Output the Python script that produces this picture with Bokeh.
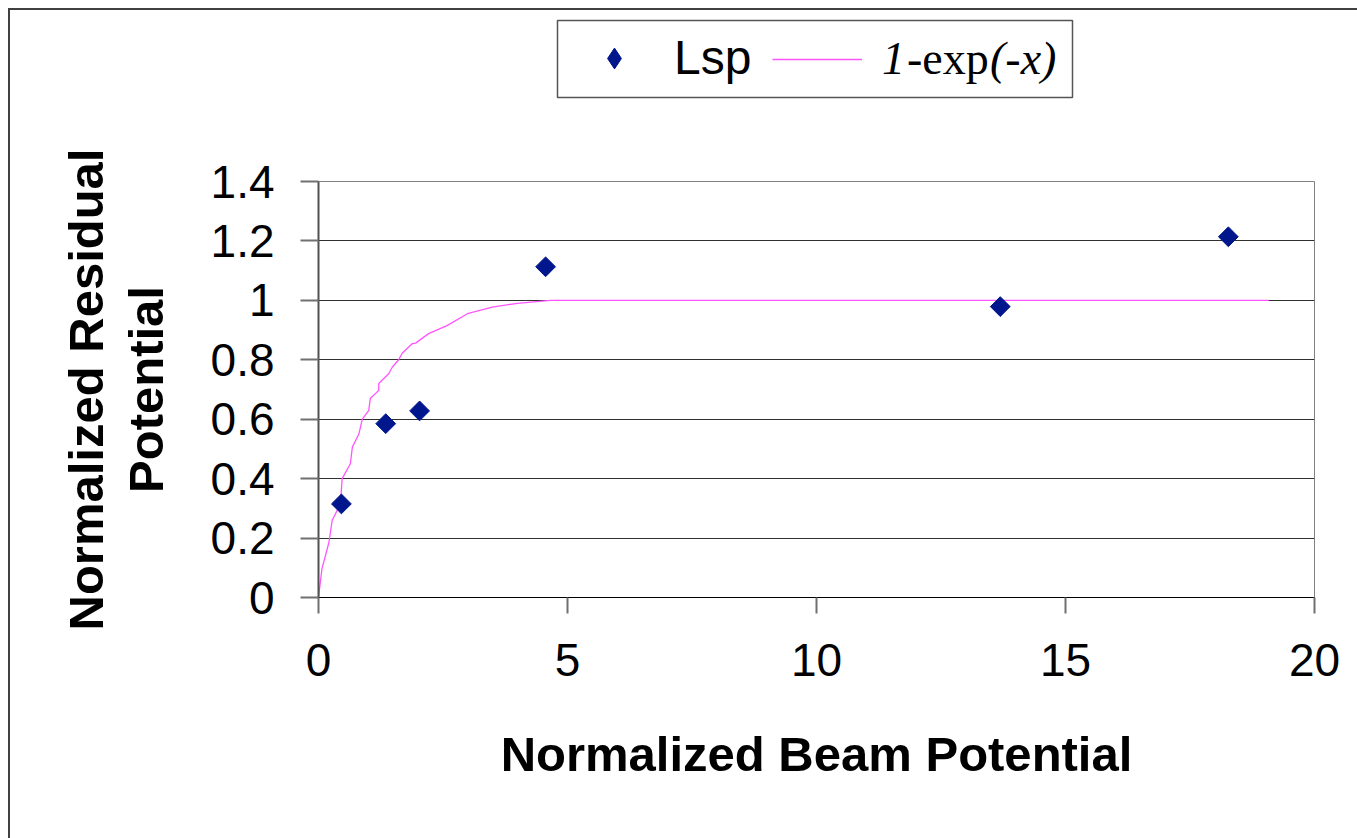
from bokeh.plotting import figure
from bokeh.models import (FixedTicker, Legend, LegendItem, BoxAnnotation, Range1d)
from bokeh.layouts import column
from bokeh.embed import file_html
from bokeh.resources import INLINE
import math

# ---- data ----
lsp_x = [0.46, 1.35, 2.03, 4.56, 13.69, 18.27]
lsp_y = [0.315, 0.585, 0.628, 1.113, 0.979, 1.214]

curve_x = [0.0, 0.07, 0.21, 0.275, 0.44, 0.475, 0.64, 0.68, 0.81, 0.88, 1.01, 1.04,
           1.21, 1.21, 1.41, 1.48, 1.61, 1.68, 1.88, 1.95, 2.21, 2.58, 2.99, 3.49,
           3.99, 4.66, 10.0, 15.0, 19.08]
curve_y = [0.0, 0.097, 0.186, 0.26, 0.315, 0.40, 0.45, 0.506, 0.55, 0.60, 0.63, 0.67,
           0.697, 0.72, 0.753, 0.775, 0.80, 0.822, 0.854, 0.856, 0.888, 0.915, 0.955,
           0.977, 0.99, 1.0, 1.0, 1.0, 1.0]

x_ticks = [0, 5, 10, 15, 20]
y_ticks = [0, 0.2, 0.4, 0.6, 0.8, 1, 1.2, 1.4]
y_tick_labels = ["0", "0.2", "0.4", "0.6", "0.8", "1", "1.2", "1.4"]

MARKER_COLOR = "#00168C"
LINE_COLOR = "#FF55FF"
BORDER_COLOR = "#404040"

W, H = 1357, 838
OFF = 10                 # outer chart border (8px margin + 2px line)
CW, CH = W - OFF, H - OFF
TOP_H = 90               # legend strip height
MAIN_H = CH - TOP_H
FRAME_L, FRAME_R = 318, 1314   # plot-area edges on the page
LEG_ORIGIN = FRAME_L - OFF     # page x that legend offsets are measured from

# ---------------- main chart ----------------
p = figure(width=CW, height=MAIN_H, output_backend="svg", toolbar_location=None,
           x_range=Range1d(0, 20), y_range=Range1d(0, 1.4),
           min_border_left=FRAME_L - OFF, min_border_right=W - FRAME_R,
           min_border_top=181 - OFF - TOP_H, min_border_bottom=241)
p.background_fill_color = "white"
p.border_fill_color = "white"
p.outline_line_color = "#808080"
p.outline_line_width = 1

p.xgrid.visible = False
p.ygrid.ticker = FixedTicker(ticks=y_ticks)
p.ygrid.grid_line_color = "#303030"
p.ygrid.grid_line_width = 1

for ax in (p.xaxis[0], p.yaxis[0]):
    ax.major_label_text_font = "Liberation Sans"
    ax.major_label_text_font_size = "46px"
    ax.major_label_text_color = "black"
    ax.axis_label_text_font = "Liberation Sans"
    ax.axis_label_text_font_size = "49px"
    ax.axis_label_text_font_style = "bold"
    ax.axis_label_text_color = "black"
    ax.minor_tick_line_color = None
    ax.major_tick_in = 0
    ax.major_tick_line_color = "#707070"
    ax.major_tick_line_width = 2

p.xaxis.ticker = FixedTicker(ticks=x_ticks)
p.xaxis.axis_line_color = "black"
p.xaxis.major_tick_out = 16
p.xaxis.major_label_standoff = 30
p.xaxis.axis_label = "Normalized Beam Potential"
p.xaxis.axis_label_standoff = 48

p.yaxis.ticker = FixedTicker(ticks=y_ticks)
p.yaxis.major_label_overrides = {t: s for t, s in zip(y_ticks, y_tick_labels)}
p.yaxis.axis_line_color = "#505050"
p.yaxis.axis_line_width = 2
p.yaxis.major_tick_out = 18
p.yaxis.major_label_standoff = 26
p.yaxis.axis_label = "Normalized Residual\nPotential"
p.yaxis.axis_label_standoff = 35
p.yaxis.axis_label_text_line_height = 1.1

p.line(curve_x, curve_y, line_color=LINE_COLOR, line_width=1.3)
p.scatter(lsp_x, lsp_y, marker="square", size=14, angle=math.pi / 4,
          fill_color=MARKER_COLOR, line_color=MARKER_COLOR)

# ---------------- legend strip (top) ----------------
top = figure(width=CW, height=TOP_H, output_backend="svg", toolbar_location=None,
             x_range=Range1d(FRAME_L, FRAME_R), y_range=Range1d(TOP_H + OFF, OFF),
             min_border=0, x_axis_type=None, y_axis_type=None)
top.grid.visible = False
top.outline_line_color = None
top.background_fill_color = "white"
top.border_fill_color = "white"
top.extra_x_ranges = {"off": Range1d(1000, 2000)}

top.add_layout(BoxAnnotation(left=557, right=1072, top=20, bottom=97,
                             fill_color="white", fill_alpha=1,
                             line_color="#555555", line_alpha=1, line_width=1.5))

# legend proxies (same series, drawn off-range so only the legend shows them)
leg_sc = top.scatter(lsp_x, lsp_y, marker="diamond", size=14,
                     fill_color=MARKER_COLOR, line_color=MARKER_COLOR, x_range_name="off")
leg_ln = top.line(curve_x, curve_y, line_color=LINE_COLOR, line_width=1.3,
                  x_range_name="off")

common = dict(padding=11, glyph_height=52, border_line_color=None,
              background_fill_alpha=0, margin=0, label_text_color="black")
serif = dict(label_text_font="Liberation Serif", label_text_font_size="46px")

leg1 = Legend(items=[LegendItem(label="Lsp", renderers=[leg_sc])],
              location=(559 - LEG_ORIGIN, 15), glyph_width=90, label_standoff=15,
              label_text_font="Liberation Sans", label_text_font_size="48px", **common)
leg2 = Legend(items=[LegendItem(label="1", renderers=[leg_ln])],
              location=(762 - LEG_ORIGIN, 15), glyph_width=90, label_standoff=20,
              label_text_font_style="italic", **serif, **common)
leg3 = Legend(items=[LegendItem(label="-exp", renderers=[leg_ln])],
              location=(897 - LEG_ORIGIN, 15), glyph_width=0, label_standoff=0,
              label_text_font_style="normal", **serif, **common)
leg4 = Legend(items=[LegendItem(label="(-x)", renderers=[leg_ln])],
              location=(980 - LEG_ORIGIN, 15), glyph_width=0, label_standoff=0,
              label_text_font_style="italic", **serif, **common)
for lg in (leg1, leg2, leg3, leg4):
    top.add_layout(lg)

layout = column(top, p, spacing=0,
                styles={"margin-left": "8px", "margin-top": "8px",
                        "border-left": "2px solid " + BORDER_COLOR,
                        "border-top": "2px solid " + BORDER_COLOR})
open("out.html", "w").write(file_html(layout, INLINE))
